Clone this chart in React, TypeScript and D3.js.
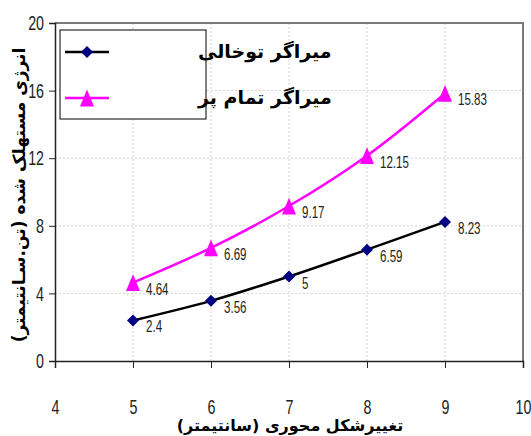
import React, { useEffect, useRef } from 'react';
import * as d3 from 'd3';

const deformation = [5, 6, 7, 8, 9];
const hollowValues = [2.4, 3.56, 5, 6.59, 8.23];
const filledValues = [4.64, 6.69, 9.17, 12.15, 15.83];
const xTicks = [4, 5, 6, 7, 8, 9, 10];
const yTicks = [0, 4, 8, 12, 16, 20];
const seriesNames = ['میراگر توخالی', 'میراگر تمام پر'];
const xTitle = 'تغییرشکل محوری (سانتیمتر)';
const yTitle = 'انرژی مستهلک شده (تن.سـانتیمتر)';

const width = 531;
const height = 436;
const margin = { top: 23, right: 8, bottom: 74, left: 55 };
const numFont = '"Liberation Sans", Arial, sans-serif';
const faFont = '"DejaVu Sans", sans-serif';
const narrow = 0.68;

// diamond and tall triangle, like the spreadsheet markers
const diamondType = {
  draw(ctx: any, size: number) {
    const r = Math.sqrt(size) / 2;
    ctx.moveTo(0, -r);
    ctx.lineTo(r, 0);
    ctx.lineTo(0, r);
    ctx.lineTo(-r, 0);
    ctx.closePath();
  },
};
const triangleType = {
  draw(ctx: any, size: number) {
    const w = Math.sqrt(size) / 2;
    const h = w * 1.2;
    ctx.moveTo(0, -h);
    ctx.lineTo(w, h);
    ctx.lineTo(-w, h);
    ctx.closePath();
  },
};

export default function App() {
  const ref = useRef<SVGSVGElement>(null);

  useEffect(() => {
    const svg = d3.select(ref.current);
    svg.selectAll('*').remove();

    const x = d3.scaleLinear().domain([4, 10]).range([margin.left, width - margin.right]);
    const y = d3.scaleLinear().domain([0, 20]).range([height - margin.bottom - 1, margin.top]);

    // grid
    const grid = svg.append('g');
    grid.selectAll('.vg')
      .data(xTicks.slice(1, -1))
      .enter()
      .append('line')
      .attr('x1', (d) => x(d))
      .attr('x2', (d) => x(d))
      .attr('y1', y(20))
      .attr('y2', y(0))
      .attr('stroke', '#d4d4d4')
      .attr('stroke-dasharray', '2,2');
    grid.selectAll('.hg')
      .data(yTicks.slice(1, -1))
      .enter()
      .append('line')
      .attr('x1', x(4))
      .attr('x2', x(10))
      .attr('y1', (d) => y(d))
      .attr('y2', (d) => y(d))
      .attr('stroke', '#d4d4d4')
      .attr('stroke-dasharray', '2,2');

    // frame
    svg.append('line')
      .attr('x1', x(4)).attr('x2', x(10) + 1)
      .attr('y1', y(20)).attr('y2', y(20))
      .attr('stroke', '#7a7a7a').attr('stroke-width', 2);
    svg.append('line')
      .attr('x1', x(10)).attr('x2', x(10))
      .attr('y1', y(20)).attr('y2', y(0))
      .attr('stroke', '#7a7a7a').attr('stroke-width', 2);

    // axes
    const xAxis = svg.append('g')
      .attr('transform', `translate(0, ${y(0)})`)
      .call(d3.axisBottom(x).tickValues(xTicks).tickSize(7).tickPadding(31).tickFormat(d3.format('d')));
    xAxis.select('.domain').attr('stroke', '#222').attr('stroke-width', 1.5);
    xAxis.selectAll('.tick line').attr('stroke', '#222');
    xAxis.selectAll('.tick text')
      .attr('font-family', numFont)
      .attr('font-size', 21)
      .attr('fill', '#222')
      .attr('transform', `scale(${narrow},1)`);

    const yAxis = svg.append('g')
      .attr('transform', `translate(${x(4)}, 0)`)
      .call(d3.axisLeft(y).tickValues(yTicks).tickSize(6).tickFormat(d3.format('d')));
    yAxis.select('.domain').attr('stroke', '#222').attr('stroke-width', 1.5);
    yAxis.selectAll('.tick line').attr('stroke', '#222');
    yAxis.selectAll('.tick text')
      .attr('font-family', numFont)
      .attr('font-size', 21)
      .attr('fill', '#222')
      .attr('x', -11 / narrow)
      .attr('transform', `scale(${narrow},1)`);

    const line = d3.line<number>()
      .x((d, i) => x(deformation[i]))
      .y((d) => y(d))
      .curve(d3.curveCatmullRom.alpha(0.5));

    svg.append('path')
      .attr('d', line(filledValues))
      .attr('fill', 'none')
      .attr('stroke', '#ff00ff')
      .attr('stroke-width', 2.5);
    svg.append('path')
      .attr('d', line(hollowValues))
      .attr('fill', 'none')
      .attr('stroke', '#000')
      .attr('stroke-width', 2.5);

    const tri = d3.symbol().type(triangleType as any).size(196);
    const dia = d3.symbol().type(diamondType as any).size(144);

    svg.selectAll('.tri')
      .data(filledValues)
      .enter()
      .append('path')
      .attr('d', tri())
      .attr('transform', (d, i) => `translate(${x(deformation[i])}, ${y(d)})`)
      .attr('fill', '#ff00ff');
    svg.selectAll('.dia')
      .data(hollowValues)
      .enter()
      .append('path')
      .attr('d', dia())
      .attr('transform', (d, i) => `translate(${x(deformation[i])}, ${y(d)})`)
      .attr('fill', '#000080');

    const labels = (vals: number[]) => svg.append('g')
      .selectAll('text')
      .data(vals)
      .enter()
      .append('text')
      .attr('transform', (d, i) => `translate(${x(deformation[i]) + 13}, ${y(d) + 12}) scale(${narrow},1)`)
      .attr('font-family', numFont)
      .attr('font-size', 17)
      .attr('fill', '#222')
      .text((d) => String(d));
    labels(filledValues);
    labels(hollowValues);

    // legend
    const lg = svg.append('g');
    lg.append('rect')
      .attr('x', 60).attr('y', 30).attr('width', 146).attr('height', 89)
      .attr('fill', '#fff').attr('stroke', '#000').attr('stroke-width', 1);
    const rows = [
      { name: seriesNames[0], color: '#000', marker: dia, mcolor: '#000080', yy: 52 },
      { name: seriesNames[1], color: '#ff00ff', marker: tri, mcolor: '#ff00ff', yy: 98 },
    ];
    rows.forEach((r) => {
      lg.append('line')
        .attr('x1', 65).attr('x2', 109).attr('y1', r.yy).attr('y2', r.yy)
        .attr('stroke', r.color).attr('stroke-width', 2.5);
      lg.append('path')
        .attr('d', r.marker())
        .attr('transform', `translate(87, ${r.yy})`)
        .attr('fill', r.mcolor);
      lg.append('text')
        .attr('x', 198).attr('y', r.yy + 6)
        .attr('text-anchor', 'end')
        .attr('direction', 'rtl')
        .attr('font-family', faFont)
        .attr('font-weight', 'bold')
        .attr('font-size', 19)
        .attr('fill', '#000')
        .text(r.name);
    });

    // titles
    svg.append('text')
      .attr('x', 290).attr('y', 431)
      .attr('text-anchor', 'middle')
      .attr('direction', 'rtl')
      .attr('font-family', faFont)
      .attr('font-weight', 'bold')
      .attr('font-size', 16)
      .attr('fill', '#000')
      .text(xTitle);
    svg.append('text')
      .attr('transform', `translate(25, 195) rotate(-90)`)
      .attr('text-anchor', 'middle')
      .attr('direction', 'rtl')
      .attr('font-family', faFont)
      .attr('font-weight', 'bold')
      .attr('font-size', 17)
      .attr('fill', '#000')
      .text(yTitle);
  }, []);

  return (
    <svg ref={ref} width={width} height={height} style={{ position: 'absolute', left: 0, top: 0, background: '#fff' }} />
  );
}
